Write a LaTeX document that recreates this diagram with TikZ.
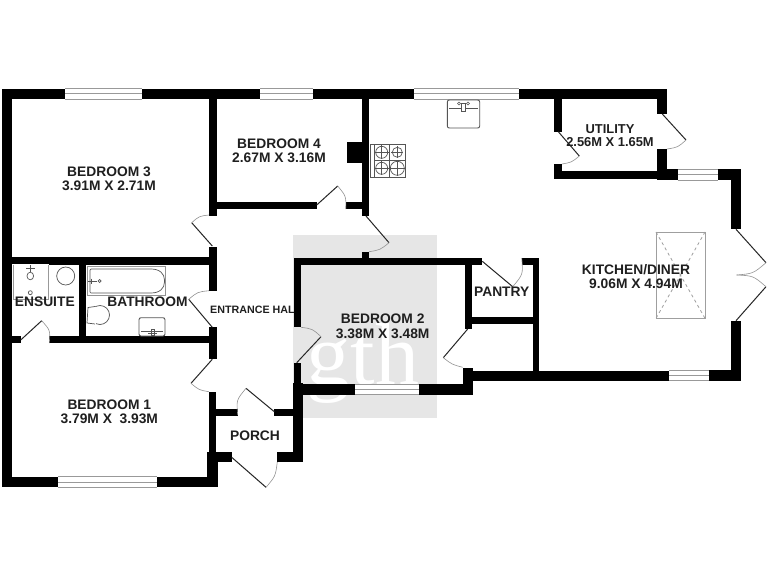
\documentclass[tikz,border=0pt]{standalone}
\usepackage{fontspec}
\setmainfont{Liberation Sans}
\newfontfamily\wmfont{Liberation Serif}
\definecolor{wm}{HTML}{E6E6E6}
\definecolor{fix}{HTML}{555555}
\tikzset{
  label/.style={font=\fontsize{13.8}{13.8}\selectfont\bfseries, text=black!88, inner sep=0pt, align=center},
  wallfill/.style={fill=black},
  fixture/.style={draw=fix, line width=0.7pt, fill=white},
  glass/.style={draw=gray!80, line width=0.8pt},
  leaf/.style={draw=black!85, line width=1pt},
  swing/.style={draw=gray!85, line width=0.6pt},
}
\newcommand{\wl}[4]{\fill[wallfill] (#1,#2) rectangle (#3,#4);}
% horizontal window x1 x2 y1 y2
\newcommand{\win}[4]{\fill[white] (#1,#3) rectangle (#2,#4);
  \draw[glass] (#1,#3) -- (#2,#3) (#1,{(#3+#4)/2}) -- (#2,{(#3+#4)/2}) (#1,#4) -- (#2,#4);}
% door: hinge, tip, jamb
\newcommand{\door}[6]{%
  \pgfmathsetmacro{\mx}{(#3+#5)/2-#1}\pgfmathsetmacro{\my}{(#4+#6)/2-#2}%
  \pgfmathsetmacro{\rr}{(#3-#1)*(#3-#1)+(#4-#2)*(#4-#2)}%
  \pgfmathsetmacro{\kk}{\rr/(\mx*\mx+\my*\my)}%
  \draw[leaf] (#1,#2) -- (#3,#4);
  \draw[swing] (#3,#4) .. controls ({#1+\kk*\mx},{#2+\kk*\my}) .. (#5,#6);}
\begin{document}
\begin{tikzpicture}[x=1pt,y=-1pt]
\useasboundingbox (0,0) rectangle (768,576);
\fill[white] (0,0) rectangle (768,576);
% watermark
\fill[wm] (292.7,234.7) rectangle (437.3,418.3);
\node[inner sep=0pt, anchor=base, text=white] (mark) at (363,384)
  {\wmfont\fontsize{88}{88}\selectfont gth};
% skylight
\draw[draw=gray!75, line width=0.9pt] (656,232) rectangle (705,318.3);
\draw[draw=gray!75, line width=0.8pt, dashed] (656,232) -- (705,318.3) (705,232) -- (656,318.3);
% outer top wall
\wl{2}{88.5}{65}{99}
\wl{142}{88.5}{260}{99}
\wl{313}{88.5}{414}{99}
\wl{519}{88.5}{667.3}{99}
\win{65}{142}{88.5}{99}
\win{260}{313}{88.5}{99}
\win{414}{519}{88.5}{99}
% left + bottom
\wl{2}{88.5}{11.5}{487.3}
\wl{2}{476.7}{58.3}{487.3}
\wl{156.7}{476.7}{217.7}{487.3}
\win{58.3}{156.7}{476.7}{487.3}
% hall left wall
\wl{209}{99}{216.5}{215.5}
\wl{209}{246.7}{216.5}{290.7}
\wl{209}{327.3}{216.5}{358.7}
\wl{209.3}{391.7}{215.7}{455}
\wl{216}{202}{316.7}{209}
\wl{346}{202}{369.3}{209}
\wl{361.7}{99}{369.3}{216}
\wl{346.7}{142.3}{362}{162.7}
% bed3 / bath
\wl{11}{257.3}{216}{265.3}
\wl{79}{265}{86}{340}
\wl{49.3}{336}{216}{343.3}
\wl{11}{336}{20.7}{343.3}
% utility
\wl{554}{99}{562}{131.7}
\wl{554}{164}{562}{178.7}
\wl{554}{170.7}{677.7}{178.7}
\wl{656.7}{88.5}{667.3}{114}
\wl{656.7}{149}{667.3}{180}
\wl{656.7}{169.3}{677.7}{180}
\wl{718}{169.3}{741.3}{180}
\win{677.7}{718}{169.3}{180}
\wl{730.7}{169.3}{741.3}{229.3}
\wl{730.7}{320.7}{741.3}{380.7}
\wl{709}{370}{741.3}{380.7}
\wl{472}{370.7}{669}{380.7}
\win{669}{709}{370}{380.7}
% bedroom 2
\wl{294}{258}{482.3}{265.3}
\wl{361.7}{252}{369.3}{258}
\wl{294}{258}{301}{327.3}
\wl{294}{363}{301}{384}
\wl{292.7}{384}{355}{394.7}
\wl{419.3}{384}{472.7}{394.7}
\win{355}{419.3}{384}{394.7}
\wl{462.7}{367.7}{472.7}{394.7}
\wl{465}{258}{471.7}{329.3}
\wl{465}{317.3}{539.3}{324}
\wl{532.7}{258}{539.3}{371}
\wl{521.7}{258}{539.3}{265}
% porch
\wl{292.7}{383}{302.7}{462}
\wl{215}{408.7}{237.7}{415.7}
\wl{274.3}{408.7}{293}{415.7}
\wl{206.7}{451.7}{231.7}{462}
\wl{277.3}{451.7}{302.7}{462}
\wl{206.7}{451.7}{217.7}{487.3}
% doors
\door{212.3}{246}{191.7}{222.7}{209}{215}
\door{212.3}{327.3}{188.7}{299.3}{209}{290.7}
\door{212.3}{359.3}{191}{383.3}{209}{391.7}
\door{20.7}{340}{41.7}{320.7}{49.3}{343}
\door{274.3}{411.7}{246}{388.3}{237.7}{415}
\door{231.7}{457.3}{266}{487.3}{277.3}{462}
\door{316.7}{205}{337.7}{186}{345.7}{209}
\door{366}{216}{389}{242.7}{369}{251.7}
\door{296.7}{362.7}{321}{336.7}{301}{327.3}
\door{482.3}{261.3}{512.7}{286.7}{521.7}{258}
\door{467.7}{329}{443.3}{357.7}{462.7}{367.3}
\door{558.3}{131.7}{579.3}{156}{562}{164}
\door{662.3}{114}{686}{140}{667}{149}
\door{736}{229.3}{766}{262.7}{736.7}{275}
\door{736}{320.7}{766}{286.7}{736.7}{275}
% hob
\draw[fixture] (370,144) rectangle (405.7,177.3);
\draw[fix, line width=0.6pt] (374,144) -- (374,177.3) (389.3,144) -- (389.3,177.3) (374,160.3) -- (405.7,160.3);
\foreach \cx/\cy/\r in {381.7/152.3/6,397.3/152.3/5,381.7/168.3/6,397.3/168.3/7}{
  \draw[fix, line width=0.7pt] (\cx,\cy) circle (\r);
  \draw[fix, line width=0.5pt] (\cx-\r-1,\cy) -- (\cx+\r+1,\cy) (\cx,\cy-\r-1) -- (\cx,\cy+\r+1);
}
% kitchen sink
\draw[fixture, line width=0.9pt, rounded corners=2pt] (447.3,100) rectangle (479.7,128);
\draw[fix, line width=0.6pt] (449,108) -- (478,108);
\draw[fix, line width=0.6pt, fill=white] (461.5,103) rectangle (465.5,111);
\draw[fix, line width=0.5pt] (459,103.5) circle (1.5) (468,103.5) circle (1.5);
% ensuite
\draw[fixture, draw=gray!80, double=white, double distance=0.8pt, line width=0.5pt] (12.7,264.5) rectangle (49,300);
\draw[fix, line width=0.6pt] (30.3,265) -- (30.3,272);
\draw[fix, line width=0.6pt] (26,268) -- (35,268);
\draw[fixture] (30.3,276) ellipse (3.3 and 3.8);
\draw[fixture] (30.3,292.7) circle (2);
\draw[fixture] (65.7,276) circle (9);
\wl{49}{257.3}{79}{265.3}
% bath
\draw[fixture, draw=gray!85] (87.3,266.7) rectangle (165.7,295);
\draw[fix, line width=0.7pt, rounded corners=1pt] (90,269) -- (150,269) .. controls (160,269) and (164.5,274) .. (164.5,281) .. controls (164.5,288) and (160,293) .. (150,293) -- (90,293) -- cycle;
\draw[fix, line width=0.6pt] (88,281) -- (97,281);
\draw[fix, line width=0.5pt] (91,278.5) -- (91,283.5);
\draw[fixture] (99.7,281) circle (1.5);
% bathroom toilet + basin
\draw[fixture] (100,315) circle (9.5);
\fill[white] (86.3,306.5) rectangle (96,324);
\draw[fix, line width=0.7pt] (95,306.5) -- (88,307.5) -- (87,323) -- (95,324);
\draw[fixture, line width=0.9pt, rounded corners=2pt] (139,317.7) rectangle (165,336);
\draw[fix, line width=0.6pt] (141,331.5) -- (163,331.5);
\draw[fix, line width=0.6pt] (151,329) rectangle (154,335) (148,333.5) -- (157,333.5);
% labels
\node[label] (b3) at (109,178.7) {BEDROOM 3\\[0.3pt]3.91M X 2.71M};
\node[label] (b4) at (279,150.5) {BEDROOM 4\\[0.3pt]2.67M X 3.16M};
\node[label, font=\fontsize{12.9}{12.9}\selectfont\bfseries] (util) at (610,135.7) {UTILITY\\[0.6pt]2.56M X 1.65M};
\node[label] (kit) at (636,276.7) {KITCHEN/DINER\\[0.3pt]9.06M X 4.94M};
\node[label] (pan) at (501.7,292) {PANTRY};
\node[label] (b2) at (382.7,326.3) {BEDROOM 2\\[0.3pt]3.38M X 3.48M};
\node[label, font=\fontsize{10.7}{10.7}\selectfont\bfseries, anchor=west] (hall) at (210,310) {ENTRANCE HAL};
\node[label] (bath) at (147.5,301.7) {BATHROOM};
\node[label] (ens) at (44.8,301.7) {ENSUITE};
\node[label] (b1) at (109.3,412) {BEDROOM 1\\[0.3pt]3.79M X\ \ 3.93M};
\node[label] (por) at (255,435.7) {PORCH};
\end{tikzpicture}
\end{document}
